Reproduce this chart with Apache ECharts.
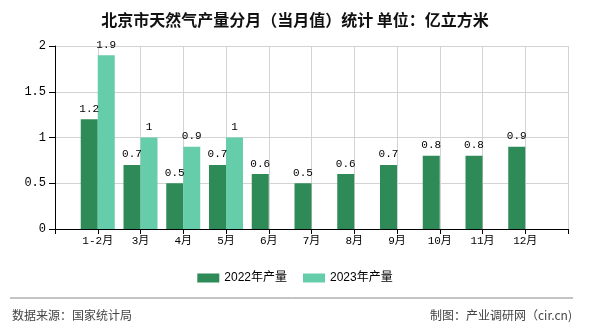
<!DOCTYPE html>
<html><head><meta charset="utf-8">
<script src="https://cdn.jsdelivr.net/npm/echarts@6/dist/echarts.min.js"></script>
<style>html,body{margin:0;padding:0;background:#fff}#c{width:590px;height:330px}</style>
</head><body><div id="c"></div>
<script>
const categories = ["", "1-2月", "3月", "4月", "5月", "6月", "7月", "8月", "9月", "10月", "11月", "12月", ""];
const series2022 = ["-", 1.2, 0.7, 0.5, 0.7, 0.6, 0.5, 0.6, 0.7, 0.8, 0.8, 0.9, "-"];
const series2023 = ["-", 1.9, 1, 0.9, 1, "-", "-", "-", "-", "-", "-", "-", "-"];
const seriesNames = ["2022年产量", "2023年产量"];
const yTicks = { min: 0, max: 2, interval: 0.5 };
const titleText = "北京市天然气产量分月（当月值）统计 单位：亿立方米";
const sourceText = "数据来源：国家统计局";
const makerText = "制图：产业调研网（cir.cn)";

const monoFont = "'Liberation Mono', 'Noto Sans CJK SC', monospace";
const chart = echarts.init(document.getElementById('c'), null, {renderer: 'canvas'});
const labelStyle = { show: true, position: 'top', distance: 5, color: '#000', fontSize: 11, fontFamily: monoFont };
chart.setOption({
  animation: false,
  backgroundColor: '#fff',
  title: { text: titleText, left: 'center', top: 7,
    textStyle: { fontSize: 16, fontWeight: 'bold', color: '#111', fontFamily: "'Noto Sans CJK SC', sans-serif" } },
  legend: { data: seriesNames, bottom: 41, left: 'center', icon: 'rect', itemWidth: 22, itemHeight: 9, itemGap: 16,
    textStyle: { fontSize: 12, color: '#000', fontFamily: "'Liberation Sans', 'Noto Sans CJK SC', sans-serif" } },
  grid: { left: 55, right: 22, top: 46, bottom: 101, containLabel: false },
  xAxis: { type: 'category', data: categories, boundaryGap: false,
    axisLine: { lineStyle: { color: '#000', width: 1 } },
    axisTick: { show: true, length: 5, lineStyle: { color: '#000' }, alignWithLabel: true },
    axisLabel: { color: '#000', fontSize: 11, fontFamily: monoFont, margin: 7, interval: 0 },
    splitLine: { show: true, lineStyle: { color: '#d3d3d3', width: 1 } } },
  yAxis: { type: 'value', min: yTicks.min, max: yTicks.max, interval: yTicks.interval,
    axisLine: { show: true, lineStyle: { color: '#000', width: 1 } },
    axisTick: { show: true, length: 6, lineStyle: { color: '#000' } },
    axisLabel: { color: '#000', fontSize: 12, fontFamily: monoFont, margin: 9 },
    splitLine: { show: true, lineStyle: { color: '#d3d3d3', width: 1 } } },
  series: [
    { name: seriesNames[0], type: 'bar', data: series2022, barWidth: 17, barGap: '0%',
      itemStyle: { color: '#2e8b57' }, label: labelStyle },
    { name: seriesNames[1], type: 'bar', data: series2023, barWidth: 17, barGap: '0%',
      itemStyle: { color: '#66cdaa' }, label: labelStyle }
  ],
  graphic: [
    { type: 'line', shape: { x1: 10, y1: 298, x2: 573, y2: 298 }, style: { stroke: '#888', lineWidth: 1 } },
    { type: 'text', left: 12, top: 309, style: { text: sourceText, fill: '#444', fontSize: 12, fontFamily: "'Noto Sans CJK SC', sans-serif" } },
    { type: 'text', right: 18, top: 309, style: { text: makerText, fill: '#444', fontSize: 12, fontFamily: "'Noto Sans CJK SC', sans-serif" } }
  ]
});
</script></body></html>
